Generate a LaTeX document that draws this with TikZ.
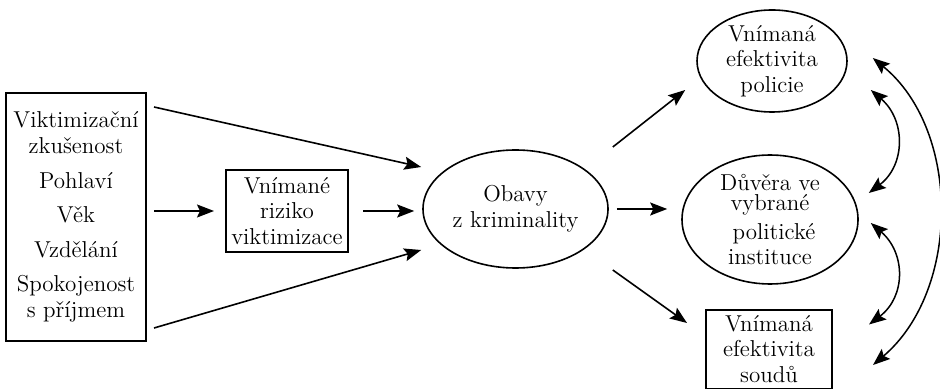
\documentclass[tikz,border=0pt]{standalone}
\usepackage{tikz}
\usetikzlibrary{positioning,shapes,arrows.meta,calc}
\tikzset{
  basic/.style  = {draw, align=center, inner sep=0pt,
                   font=\fontsize{11.5}{12.8}\selectfont},
  var/.style    = {basic, rectangle, line width=1pt},
  latent/.style = {basic, ellipse, line width=0.8pt},
  effect/.style = {-{Stealth[length=8.5pt,width=6.5pt,inset=1.5pt]}, line width=0.8pt},
  cov/.style    = {{Stealth[length=8.5pt,width=6.5pt,inset=1.5pt]}-{Stealth[length=8.5pt,width=6.5pt,inset=1.5pt]},
                   line width=0.75pt}
}
\begin{document}
\begin{tikzpicture}[x=0.5pt,y=-0.5pt]
        \useasboundingbox (0,0) rectangle (940,389);
        % exogenous variables on the left
        \node[var, minimum width=70pt, minimum height=124pt] (factors) at (76,217)
          {Viktimizační\\zkušenost\\[4.5pt] Pohlaví\\[4.5pt] Věk\\[4.5pt]
            Vzdělání\\[4.5pt] Spokojenost\\s příjmem};
        \node[var, minimum width=61pt, minimum height=41pt] (risk) at (287,211)
          {Vnímané\\riziko\\viktimizace};
        % mediator
        \node[latent, minimum width=92.5pt, minimum height=59pt] (fear) at (515.5,209)
          {Obavy\\z kriminality};
        % outcomes on the right
        \node[latent, minimum width=75pt, minimum height=51pt] (police) at (772,61)
          {Vnímaná\\efektivita\\policie};
        \node[latent, minimum width=88pt, minimum height=62.5pt] (trust) at (770,219.5)
          {Důvěra ve\\[-2.5pt] vybrané\\[1.5pt] \hspace*{4pt}politické\\instituce};
        \node[var, minimum width=63pt, minimum height=39.5pt] (courts) at (769,349)
          {Vnímaná\\efektivita\\soudů};
        % effects towards the fear of crime
        \draw[effect] ([shift={(7,15)}]factors.north east) -- ([shift={(-1,-42)}]fear.west);
        \draw[effect] ([shift={(7,-14)}]factors.south east) -- ([shift={(-1,41)}]fear.west);
        \draw[effect, shorten <=3.5pt, shorten >=5.5pt] (factors.east |- risk.west) -- (risk.west);
        \draw[effect, shorten <=7pt, shorten >=4pt] (risk.east) -- (risk.east -| fear.west);
        % effects of the fear of crime
        \draw[effect] ([shift={(4,-62)}]fear.east) -- ([shift={(-11,29)}]police.west);
        \draw[effect, shorten <=4pt, shorten >=7pt] (fear.east) -- (fear.east -| trust.west);
        \draw[effect] ([shift={(4,61)}]fear.east) -- ([shift={(-18,-26)}]courts.west);
        % correlations between the outcomes
        \draw[cov] ([shift={(23,29)}]police.east) .. controls +(35,30) and +(37,-28)
          .. ([shift={(10,-26.5)}]trust.east);
        \draw[cov] ([shift={(12,3.5)}]trust.east) .. controls +(35,30) and +(37,-28)
          .. ([shift={(36,16)}]courts.north east);
        \draw[cov] ([shift={(25,-3)}]police.east) .. controls +(88,72) and +(88,-75)
          .. ([shift={(40,16)}]courts.east);
\end{tikzpicture}
\end{document}
